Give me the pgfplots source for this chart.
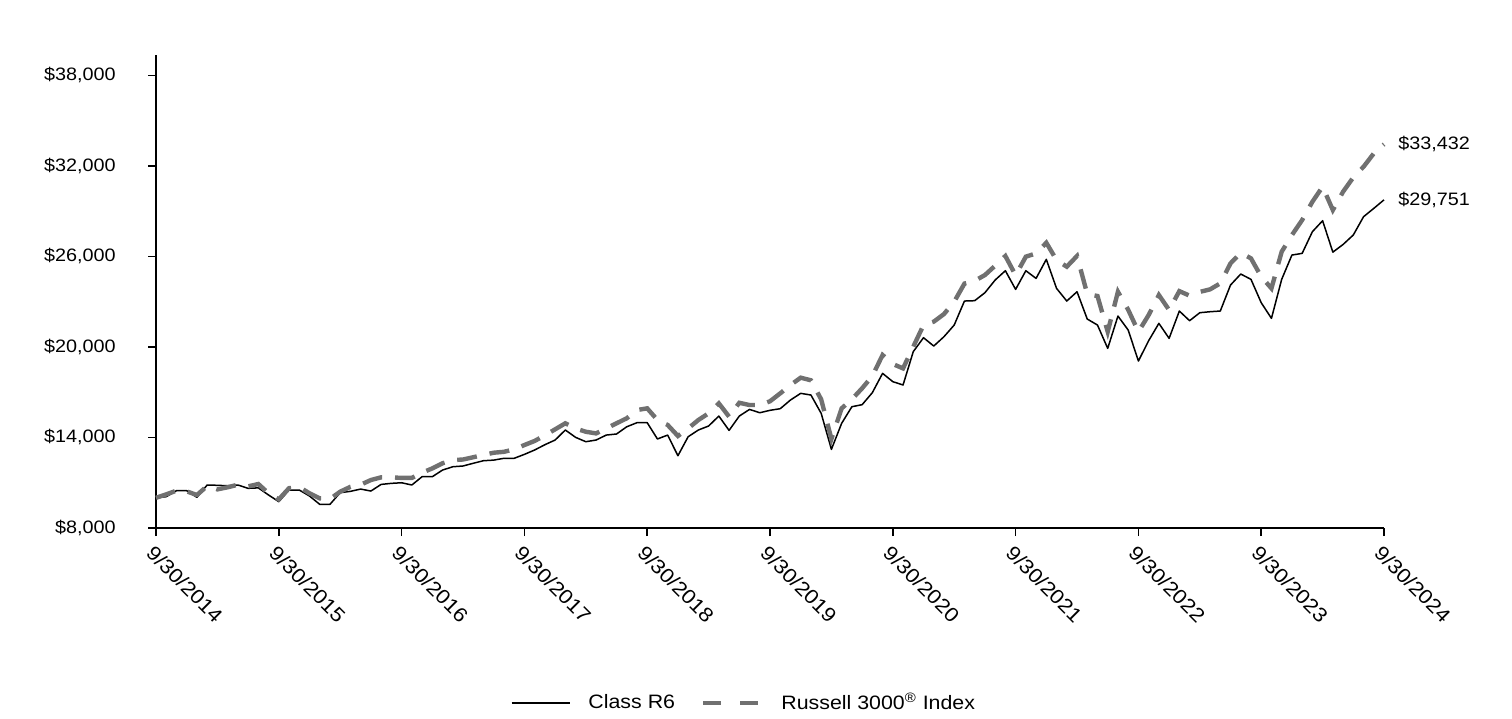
\documentclass[border=0pt]{standalone}
\usepackage{fontspec}
\setmainfont{Liberation Sans}[FakeStretch=1.1]
\usepackage{pgfplots}
\pgfplotsset{compat=1.18}
\usepackage{pgfplotstable}
\definecolor{rgray}{HTML}{707070}
\pgfplotstableread{
x y
0 10000
1 10076
2 10475
3 10475
4 10033
5 10850
6 10830
7 10800
8 10850
9 10630
10 10660
11 10187
12 9745
13 10518
14 10518
15 10120
16 9568
17 9568
18 10342
19 10430
20 10580
21 10450
22 10890
23 10960
24 11000
25 10850
26 11400
27 11400
28 11840
29 12060
30 12110
31 12290
32 12460
33 12500
34 12620
35 12620
36 12880
37 13170
38 13520
39 13830
40 14495
41 14010
42 13720
43 13830
44 14160
45 14230
46 14710
47 14980
48 14980
49 13900
50 14160
51 12790
52 14050
53 14495
54 14760
55 15420
56 14470
57 15420
58 15860
59 15640
60 15800
61 15908
62 16483
63 16925
64 16814
65 15600
66 13213
67 14937
68 16040
69 16173
70 16970
71 18250
72 17700
73 17477
74 19690
75 20614
76 20060
77 20680
78 21453
79 23043
80 23066
81 23594
82 24435
83 25053
84 23816
85 25053
86 24545
87 25804
88 23883
89 23043
90 23660
91 21850
92 21453
93 19906
94 22049
95 21121
96 19067
97 20414
98 21563
99 20570
100 22380
101 21740
102 22270
103 22335
104 22380
105 24104
106 24833
107 24480
108 22933
109 21895
110 24480
111 26091
112 26202
113 27638
114 28367
115 26284
116 26792
117 27422
118 28632
119 29185
120 29751
}\rsix
\pgfplotstableread{
x y
0 10000
1 10230
2 10475
3 10430
4 10187
5 10783
6 10560
7 10700
8 10870
9 10760
10 10916
11 10297
12 9900
13 10640
14 10716
15 10300
16 9966
17 9920
18 10408
19 10730
20 10870
21 11180
22 11360
23 11360
24 11320
25 11320
26 11670
27 11950
28 12290
29 12500
30 12540
31 12690
32 12840
33 12990
34 13050
35 13210
36 13500
37 13770
38 14140
39 14540
40 14940
41 14600
42 14380
43 14270
44 14600
45 14940
46 15270
47 15820
48 15930
49 15160
50 14830
51 14100
52 14600
53 15160
54 15600
55 16260
56 15380
57 16300
58 16150
59 16150
60 16400
61 16925
62 17477
63 17963
64 17790
65 16527
66 13900
67 15930
68 16530
69 17260
70 18070
71 19465
72 18870
73 18580
74 20015
75 21450
76 21675
77 22180
78 23000
79 24200
80 24380
81 24766
82 25385
83 26028
84 24750
85 25985
86 26200
87 26907
88 25760
89 25320
90 26030
91 23508
92 23375
93 21010
94 23660
95 22465
96 21010
97 22115
98 23440
99 22450
100 23700
101 23400
102 23650
103 23816
104 24215
105 25540
106 26245
107 25870
108 24655
109 23883
110 26313
111 27417
112 28411
113 29624
114 30620
115 29074
116 30290
117 31240
118 31943
119 32826
120 33432
}\russell
\begin{document}
\begin{tikzpicture}[font=\fontsize{9}{11}\selectfont]
\begin{axis}[
  scale only axis, width=614pt, height=236.5pt,
  xmin=0, xmax=120, ymin=8000, ymax=39350,
  scaled y ticks=false,
  axis lines=left,
  axis line style={-, line width=0.8pt, black},
  tick align=outside, major tick length=4pt,
  tick style={black, line width=0.8pt},
  xtick={0,12,...,120},
  xticklabels={9/30/2014,9/30/2015,9/30/2016,9/30/2017,9/30/2018,9/30/2019,9/30/2020,9/30/2021,9/30/2022,9/30/2023,9/30/2024},
  xticklabel style={rotate=-45, anchor=north west, inner sep=1pt, xshift=1.5pt, yshift=-2pt, font=\fontsize{10}{12}\selectfont},
  ytick={8000,14000,20000,26000,32000,38000},
  yticklabels={{\$8,000},{\$14,000},{\$20,000},{\$26,000},{\$32,000},{\$38,000}},
  yticklabel style={font=\fontsize{9}{11}\selectfont, anchor=east, inner sep=0pt, xshift=-16pt},
  clip=false,
  legend style={at={(0.4788,-0.37)}, anchor=center, draw=none, fill=none,
    legend columns=-1, font=\fontsize{9.7}{11}\selectfont,
    /tikz/every even column/.append style={column sep=12pt},
    nodes={inner sep=1pt}},
  legend image code/.code={\draw[#1] (0pt,0pt) -- (29pt,0pt);},
]
\addplot[black, line width=0.75pt, line join=round] table[x=x,y=y]{\rsix};
\addlegendentry{\hspace{8pt}Class R6}
\addplot[rgray, line width=2.2pt, dash pattern=on 10pt off 6.5pt,
  legend image post style={dash pattern=on 9pt off 9.5pt}] table[x=x,y=y]{\russell};
\addlegendentry{\hspace{8pt}Russell 3000\textsuperscript{\textregistered} Index}
\node[anchor=west, inner sep=0pt, xshift=7pt] at (axis cs:120,33432) {\$33,432};
\node[anchor=west, inner sep=0pt, xshift=7pt] at (axis cs:120,29751) {\$29,751};
\end{axis}
\pgfresetboundingbox
\path ([shift={(-78pt,-95pt)}]current axis.south west) rectangle ([shift={(64pt,27.5pt)}]current axis.north east);
\end{tikzpicture}
\end{document}
